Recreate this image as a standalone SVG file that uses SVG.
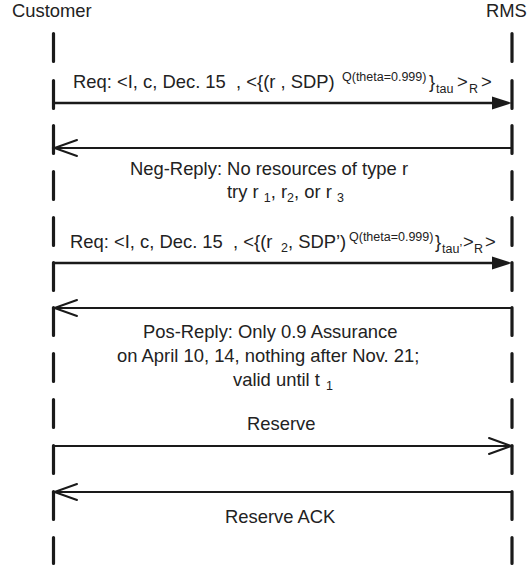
<svg xmlns="http://www.w3.org/2000/svg" width="528" height="567" viewBox="0 0 528 567">
<defs>
<style>
.t{font-family:"Liberation Sans",Arial,sans-serif;font-size:18.4px;fill:#222}
.s{font-size:12.5px}
.life{fill:none;stroke:#1a1a1a;stroke-width:3.2;stroke-linecap:round}
.msg{fill:none;stroke:#1a1a1a;stroke-width:2}
.req{fill:none;stroke:#1a1a1a;stroke-width:2.6}
.head{fill:#1a1a1a;stroke:none}
.open{fill:none;stroke:#1a1a1a;stroke-width:2;stroke-linecap:round;stroke-linejoin:miter}
</style>
</defs>
<rect width="528" height="567" fill="#fff"/>
<g id="customer">
<text class="t" x="12" y="17">Customer</text>
<path class="life" d="M53.5,33.5V61.5M53.5,80.5V108.5M53.5,125.5V153.5M53.5,171.5V199.5M53.5,217.5V245.5M53.5,262.5V290.5M53.5,307.5V335.5M53.5,353.5V381.5M53.5,399.5V427.5M53.5,445.5V473.5M53.5,491.5V519.5M53.5,537.5V563.5"/>
</g>
<g id="rms">
<text class="t" x="486" y="17">RMS</text>
<path class="life" d="M512,33.5V61.5M512,80.5V108.5M512,125.5V153.5M512,171.5V199.5M512,217.5V245.5M512,262.5V290.5M512,307.5V335.5M512,353.5V381.5M512,399.5V427.5M512,445.5V473.5M512,491.5V519.5M512,537.5V563.5"/>
</g>
<g id="connectors">
<g id="req1">
<line class="req" x1="53.5" y1="103" x2="494" y2="103"/>
<polygon class="head" points="492,96.5 512,103 492,109.5"/>
<text class="t" x="73" y="88" xml:space="preserve">Req: &lt;I, c, Dec. 15  , &lt;{(r , SDP)<tspan class="s" x="342" y="81">Q(theta=0.999)</tspan><tspan x="429" y="88">}</tspan><tspan class="s" x="436" y="93">tau</tspan><tspan x="457" y="88">&gt;</tspan><tspan class="s" x="469" y="93">R</tspan><tspan x="481" y="88">&gt;</tspan></text>
</g>
<g id="neg-reply">
<line class="msg" x1="53.5" y1="148" x2="512" y2="148"/>
<polyline class="open" points="77,140 54.5,148 77,156"/>
<text class="t" x="130" y="175">Neg-Reply: No resources of type r</text>
<text class="t" x="227" y="198" xml:space="preserve">try r <tspan class="s" y="202">1</tspan><tspan y="198">, r</tspan><tspan class="s" y="202">2</tspan><tspan y="198">, or r </tspan><tspan class="s" y="202">3</tspan></text>
</g>
<g id="req2">
<line class="req" x1="53.5" y1="263" x2="494" y2="263"/>
<polygon class="head" points="492,256.5 512,263 492,269.5"/>
<text class="t" x="70" y="248" xml:space="preserve">Req: &lt;I, c, Dec. 15  , &lt;{(r <tspan class="s" x="281" y="252">2</tspan><tspan x="288" y="248">, SDP’)</tspan><tspan class="s" x="349" y="241">Q(theta=0.999)</tspan><tspan x="435" y="248">}</tspan><tspan class="s" x="442" y="253">tau’</tspan><tspan x="463" y="248">&gt;</tspan><tspan class="s" x="474" y="253">R</tspan><tspan x="485" y="248">&gt;</tspan></text>
</g>
<g id="pos-reply">
<line class="msg" x1="53.5" y1="308" x2="512" y2="308"/>
<polyline class="open" points="77,300 54.5,308 77,316"/>
<text class="t" x="143" y="338">Pos-Reply: Only 0.9 Assurance</text>
<text class="t" x="117" y="362">on April 10, 14, nothing after Nov. 21;</text>
<text class="t" x="233" y="386" xml:space="preserve">valid until t <tspan class="s" x="326" y="390">1</tspan></text>
</g>
<g id="reserve">
<line class="msg" x1="53.5" y1="446" x2="511" y2="446"/>
<polyline class="open" points="489,438 511,446 489,454"/>
<text class="t" x="247" y="430">Reserve</text>
</g>
<g id="reserve-ack">
<line class="msg" x1="53.5" y1="492" x2="512" y2="492"/>
<polyline class="open" points="77,484 54.5,492 77,500"/>
<text class="t" x="225" y="523">Reserve ACK</text>
</g>
</g>
</svg>
